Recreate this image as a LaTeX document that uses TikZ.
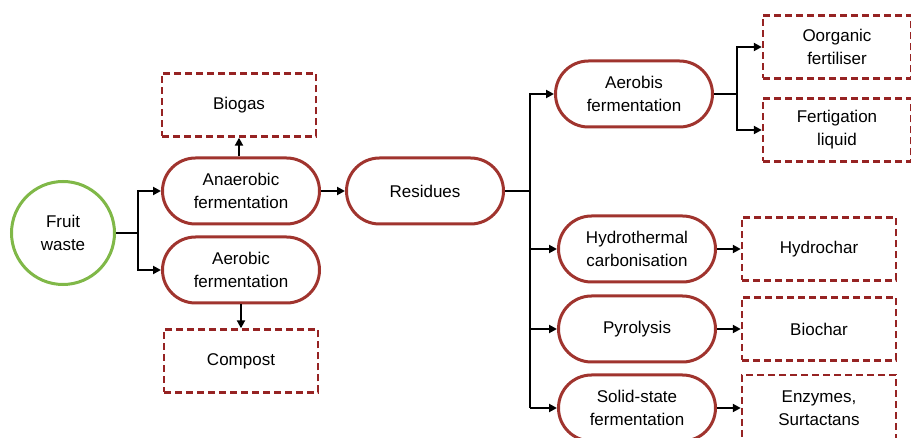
\documentclass[tikz,border=0pt]{standalone}
\usepackage{fontspec}
\setmainfont{Liberation Sans}
\usetikzlibrary{arrows.meta,shapes.misc}
\definecolor{pillred}{RGB}{160,52,46}
\definecolor{boxred}{RGB}{150,35,35}
\definecolor{leaf}{RGB}{128,184,72}
\tikzset{
  txt/.style={font=\fontsize{17}{23}\selectfont, align=center, text=black},
  pill/.style={txt, draw=pillred, line width=3pt, rounded rectangle, minimum width=#1, minimum height=66pt, inner sep=0pt},
  pill/.default=157pt,
  outbox/.style={txt, draw=boxred, line width=2.4pt, dash pattern=on 7pt off 4pt, minimum width=#1, minimum height=63pt, inner sep=0pt},
  outbox/.default=154pt,
  conn/.style={line width=2pt, black},
  arr/.style={conn, -{Triangle[length=8pt,width=8pt]}},
}
\begin{document}
\begin{tikzpicture}[x=1pt,y=-1pt]
\useasboundingbox (0,0) rectangle (911,438);
\clip (0,0) rectangle (911,438);
% left part
\node[txt, circle, draw=leaf, line width=3pt, minimum size=103pt, inner sep=0pt] (fw) at (63,233) {Fruit\\waste};
\node[pill] (an) at (241,191) {Anaerobic\\fermentation};
\node[pill] (ae) at (241,270) {Aerobic\\fermentation};
\node[outbox] (bg) at (239,105) {Biogas};
\node[outbox] (cp) at (241,361) {Compost};
\coordinate (j1) at (138,233);
\draw[conn] (fw.east) -- (j1);
\draw[arr] (j1) |- (an.west);
\draw[arr] (j1) |- (ae.west);
\draw[arr] (an.north -| bg.south) -- (bg.south);
\draw[arr] (ae.south) -- (cp.north);
% residues
\node[pill] (rs) at (425,191) {Residues};
\draw[arr] (an.east) -- (rs.west);
\coordinate (j2) at (530,191);
\draw[conn] (rs.east) -- (j2);
% right branch
\node[pill] (ab) at (634,94) {Aerobis\\fermentation};
\node[pill] (ht) at (637,249) {Hydrothermal\\carbonisation};
\node[pill] (py) at (637,329) {Pyrolysis};
\node[pill] (ss) at (637,408) {Solid-state\\fermentation};
\draw[arr] (j2) |- (ab.west);
\draw[conn] (j2) -- (j2 |- ss.west);
\draw[arr] (j2 |- ht.west) -- (ht.west);
\draw[arr] (j2 |- py.west) -- (py.west);
\draw[arr] (j2 |- ss.west) -- (ss.west);
% outputs
\node[outbox=148pt] (of) at (837,47) {Oorganic\\fertiliser};
\node[outbox=148pt] (fl) at (837,130) {Fertigation\\liquid};
\node[outbox] (hc) at (819,249) {Hydrochar};
\node[outbox] (bc) at (819,329) {Biochar};
\node[outbox=154pt, minimum height=66pt] (ez) at (819,408) {Enzymes,\\Surtactans};
\coordinate (j3) at (737,94);
\draw[conn] (ab.east) -- (j3);
\draw[arr] (j3) |- (of.west);
\draw[arr] (j3) |- (fl.west);
\draw[arr] (ht.east) -- (hc.west);
\draw[arr] (py.east) -- (bc.west);
\draw[arr] (ss.east) -- (ez.west);
\end{tikzpicture}
\end{document}
